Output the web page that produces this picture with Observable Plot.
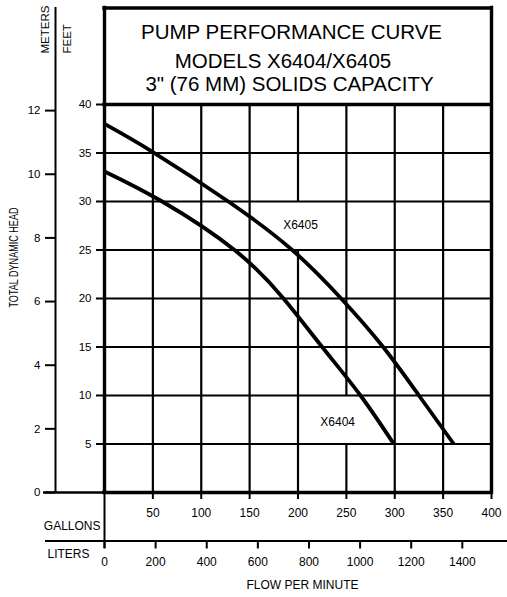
<!DOCTYPE html>
<html><head><meta charset="utf-8">
<script src="https://cdn.jsdelivr.net/npm/d3@7"></script>
<script src="https://cdn.jsdelivr.net/npm/@observablehq/plot@0.6"></script>
<style>html,body{margin:0;padding:0;background:#fff}svg{display:block}</style>
</head><body><div id="chart"></div>
<script>
// ---- data ----
const gallonsTicks = [50, 100, 150, 200, 250, 300, 350, 400];
const literTicks = [0, 200, 400, 600, 800, 1000, 1200, 1400];
const feetTicks = [5, 10, 15, 20, 25, 30, 35, 40];
const meterTicks = [0, 2, 4, 6, 8, 10, 12];
const titleLines = ["PUMP PERFORMANCE CURVE", "MODELS X6404/X6405", "3\" (76 MM) SOLIDS CAPACITY"];
const seriesNames = ["X6405", "X6404"];
const x6405Gpm = [0, 50, 128, 194, 244.6, 288, 325, 361];
const x6405Ft  = [38.0, 35.1, 30, 25, 20, 15, 10, 5];
const x6404Gpm = [0, 59.6, 134.4, 185, 225, 264.6, 299];
const x6404Ft  = [33.1, 30, 25, 20, 15, 10, 5];

const FT_PER_M = 3.28084, L_PER_GAL = 3.78541;

// ---- layout helpers (pixel -> data, for decorations outside the plot area) ----
const W = 507, H = 597, ML = 104, MR = 16, MT = 104, MB = 105;
const X0 = ML, X1 = W - MR, Y0 = H - MB, Y1 = MT;
const gx = p => (p - X0) / (X1 - X0) * 400;
const gy = p => (Y0 - p) / (Y0 - Y1) * 40;

const c6405 = x6405Gpm.map((g, i) => ({g, f: x6405Ft[i]}));
const c6404 = x6404Gpm.map((g, i) => ({g, f: x6404Ft[i]}));

// grid segments (some cells left open for curve labels)
const gaps = [{g: 200, a: 25, b: 30}, {g: 250, a: 5, b: 10}];
const vSegs = [];
for (const g of gallonsTicks.filter(v => v < 400)) {
  const gp = gaps.find(d => d.g === g);
  if (gp) { vSegs.push({g, a: 0, b: gp.a}); vSegs.push({g, a: gp.b, b: 40}); }
  else vSegs.push({g, a: 0, b: 40});
}

const TOP = gy(7.5);
const FONT = "'Liberation Sans', Arial, sans-serif";

const plot = Plot.plot({
  width: W, height: H,
  marginLeft: ML, marginRight: MR, marginTop: MT, marginBottom: MB,
  x: {domain: [0, 400]},
  y: {domain: [0, 40]},
  style: {fontFamily: FONT, fontSize: "12px", background: "#fff", color: "#000"},
  marks: [
    // grid
    Plot.ruleY(feetTicks.filter(v => v < 40), {x1: 0, x2: 400, strokeWidth: 2.2}),
    Plot.ruleX(vSegs, {x: "g", y1: "a", y2: "b", strokeWidth: 2.2}),
    // curves
    Plot.line(c6405, {x: "g", y: "f", curve: "natural", strokeWidth: 3.8, strokeLinecap: "butt"}),
    Plot.line(c6404, {x: "g", y: "f", curve: "natural", strokeWidth: 3.8, strokeLinecap: "butt"}),
    Plot.text([seriesNames[0]], {x: 202.6, y: 27.6, fontSize: 12}),
    Plot.text([seriesNames[1]], {x: 241, y: 7.3, fontSize: 12}),
    // frame + title box
    Plot.ruleX([0, 400], {y1: 0, y2: TOP, strokeWidth: 3.4, strokeLinecap: "square"}),
    Plot.ruleY([40, TOP], {x1: 0, x2: 400, strokeWidth: 3.4, strokeLinecap: "square"}),
    Plot.ruleY([0], {x1: gx(43), x2: 400, strokeWidth: 2.4}),
    Plot.ruleY([0], {x1: 0, x2: 400, strokeWidth: 3.6, strokeLinecap: "square"}),
    // meters axis
    Plot.ruleX([gx(55)], {y1: 0, y2: gy(7), strokeWidth: 2}),
    Plot.axisY(meterTicks.map(m => m * FT_PER_M), {anchor: "left", dx: -49, tickSize: 10, tickPadding: 5,
      tickFormat: d => String(Math.round(d / FT_PER_M)), strokeWidth: 2, fontSize: 11.5, label: null}),
    // feet axis
    Plot.axisY(feetTicks, {anchor: "left", tickSize: 8, tickPadding: 5, strokeWidth: 2, fontSize: 11.5, label: null}),
    // gallons axis
    Plot.axisX(gallonsTicks, {anchor: "bottom", tickSize: 7, tickPadding: 9, strokeWidth: 2, fontSize: 12, label: null}),
    // liters axis
    Plot.ruleY([gy(540.5)], {x1: gx(45), x2: gx(507), strokeWidth: 2}),
    Plot.ruleX([0], {y1: 0, y2: gy(548), strokeWidth: 2}),
    Plot.axisX(literTicks.map(L => L / L_PER_GAL), {anchor: "bottom", dy: 48.5, tickSize: 8, tickPadding: 8,
      tickFormat: d => String(Math.round(d * L_PER_GAL)), strokeWidth: 2, fontSize: 12, label: null}),
    // axis titles
    Plot.text(["GALLONS"], {x: gx(100), y: gy(526), textAnchor: "end", fontSize: 12}),
    Plot.text(["LITERS"], {x: gx(47), y: gy(554), textAnchor: "start", fontSize: 12}),
    Plot.text(["FLOW PER MINUTE"], {x: gx(302), y: gy(585), fontSize: 12}),
    Plot.text(["TOTAL DYNAMIC HEAD"], {x: gx(14), y: gy(257), rotate: -90, fontSize: 12}),
    Plot.text(["METERS"], {x: gx(45), y: gy(53), rotate: -90, textAnchor: "start", fontSize: 11.5}),
    Plot.text(["FEET"], {x: gx(67), y: gy(53), rotate: -90, textAnchor: "start", fontSize: 11.5}),
    // title
    Plot.text([titleLines[0]], {x: gx(291), y: gy(32), fontSize: 20.5}),
    Plot.text([titleLines[1]], {x: gx(282.5), y: gy(60.5), fontSize: 20.5}),
    Plot.text([titleLines[2]], {x: gx(289), y: gy(83.5), fontSize: 20.5})
  ]
});

d3.select(plot).selectAll("text")
  .filter(function () { return this.textContent === "TOTAL DYNAMIC HEAD"; })
  .attr("textLength", 100).attr("lengthAdjust", "spacingAndGlyphs");

document.getElementById("chart").appendChild(plot);
</script></body></html>
